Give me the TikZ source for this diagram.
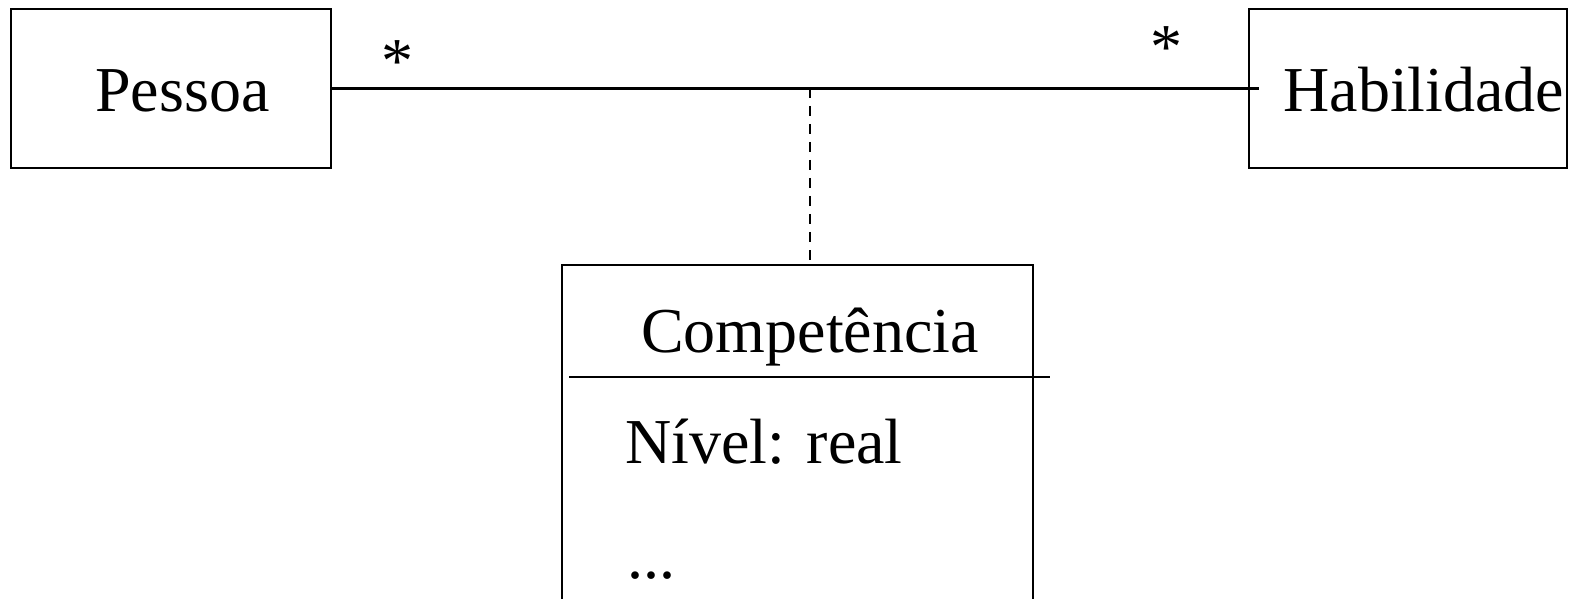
\documentclass[tikz,border=0pt]{standalone}
\usepackage{fontspec}
\setmainfont{Liberation Serif}
\usepackage{tikz}
\usetikzlibrary{positioning, calc}
\tikzset{every node/.style={font=\fontsize{32}{38}\selectfont}}
\tikzset{classbox/.style={draw, line width=1.2pt, inner sep=0pt}, assoc/.style={line width=1.2pt}}

\begin{document}
\begin{tikzpicture}[x=0.5pt, y=-0.5pt]
    \useasboundingbox (0,0) rectangle (1570,599);
    \clip (0,0) rectangle (1570,599);
    % classes
    \node [classbox, minimum width=160pt, minimum height=79.5pt] (pessoa) at (171,88.5) {};
    \node [anchor=base west, inner sep=0pt] (pestext) at (95,112) {Pessoa};
    \node [classbox, minimum width=159pt, minimum height=79.5pt] (habilidade) at (1408,88.5) {};
    \node [anchor=base west, inner sep=0pt] (habtext) at (1283,112) {Habilidade};
    \node [classbox, minimum width=235.5pt, minimum height=187.5pt] (compbox) at (797.5,452.5) {};
    \node [anchor=base, inner sep=0pt] (comptext) at (810,352) {Competência};
    \node [anchor=base west, inner sep=0pt] (nivel) at (625,463) {Nível: real};
    \node [anchor=base west, inner sep=0pt] (etc) at (627,578) {...};
    \coordinate (sepleft) at (569,377);
    \coordinate (sepright) at (1050,377);
    \draw [assoc] (sepleft) -- (sepright);
    % association
    \coordinate (assocend) at ([xshift=5.5pt]habilidade.west);
    \coordinate (joint) at (810,88);
    \draw [assoc] (pessoa.east) -- (assocend);
    \draw [assoc, dash pattern=on 5pt off 4pt] (joint) -- (joint |- compbox.north);
    \node [anchor=base, inner sep=0pt] (multleft) at (397,83) {*};
    \node [anchor=base, inner sep=0pt] (multright) at (1166,69) {*};
\end{tikzpicture}
\end{document}
